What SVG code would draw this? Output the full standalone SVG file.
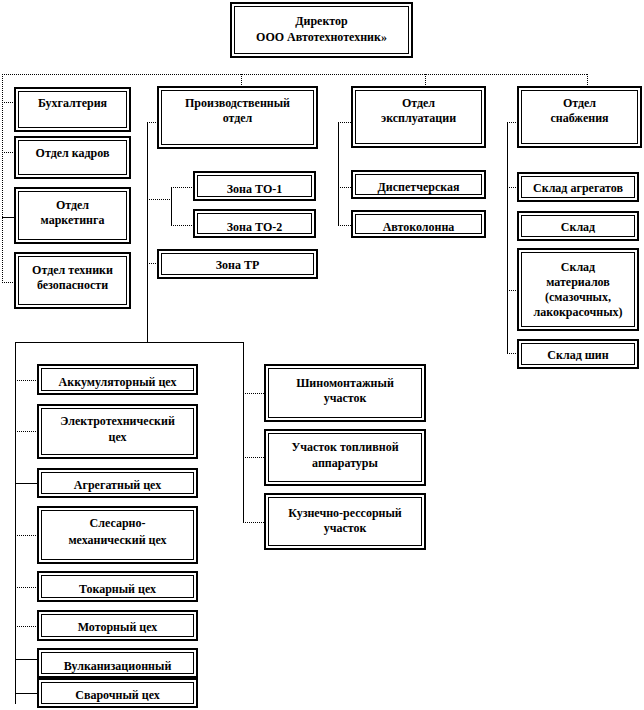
<svg xmlns="http://www.w3.org/2000/svg" width="644" height="710" viewBox="0 0 644 710">
<style>
.o{fill:#fff;stroke:#000;stroke-width:2}
.i{fill:none;stroke:#000;stroke-width:1}
text{font-family:"Liberation Serif","Times New Roman",serif;font-weight:bold;font-size:12px;text-anchor:middle;fill:#000}
.s{fill:none;stroke:#000;stroke-width:1}
.d{fill:none;stroke:#000;stroke-width:1;stroke-dasharray:1 1}
</style>
<rect width="644" height="710" fill="#fff"/>
<g id="connectors">
<path class="d" d="M2 74.5H588M2.5 74V283M2 102.5H15M2 152.5H15M2 282.5H15M241.5 74V87M425.5 74V87M587.5 74V87"/>
<path class="s" d="M2 217.5H15"/>
<path class="d" d="M147 122.5H158M147 199.5H171M171 187.5H194M171 225.5H194M147 263.5H158"/>
<path class="s" d="M147.5 122V342M171.5 187V226M15 342.5H243.5M15.5 342V704M243.5 342V523"/>
<path class="d" d="M15 380.5H38M15 431.5H38M15 535.5H38M15 587.5H38M15 626.5H38M243 393.5H265M243 457.5H265M243 522.5H265"/>
<path class="s" d="M15 483.5H38M15 659.5H38M15 693.5H38"/>
<path class="d" d="M338 122.5H352M338 187.5H352M338 225.5H352"/>
<path class="s" d="M338.5 122V226M507.5 122V354"/>
<path class="d" d="M507 122.5H518M507 187.5H518M507 290.5H518M507 353.5H518"/>
</g>
<g id="director"><rect class="o" x="231" y="3" width="181" height="54"/><rect class="i" x="234.5" y="6.5" width="174" height="47"/><text x="321.5" y="25">Директор</text><text x="321.5" y="41">ООО Автотехнотехник»</text></g>
<g id="buh"><rect class="o" x="15" y="88" width="115" height="43"/><rect class="i" x="18.5" y="91.5" width="108" height="36"/><text x="72.5" y="107">Бухгалтерия</text></g>
<g id="kadry"><rect class="o" x="15" y="137" width="115" height="41"/><rect class="i" x="18.5" y="140.5" width="108" height="34"/><text x="72.5" y="157">Отдел  кадров</text></g>
<g id="marketing"><rect class="o" x="15" y="188" width="115" height="55"/><rect class="i" x="18.5" y="191.5" width="108" height="48"/><text x="72.5" y="209">Отдел</text><text x="72.5" y="224">маркетинга</text></g>
<g id="tb"><rect class="o" x="15" y="253" width="115" height="55"/><rect class="i" x="18.5" y="256.5" width="108" height="48"/><text x="72.5" y="274">Отдел  техники</text><text x="72.5" y="289">безопасности</text></g>
<g id="prod"><rect class="o" x="158" y="87" width="159" height="61"/><rect class="i" x="161.5" y="90.5" width="152" height="54"/><text x="237.5" y="107">Производственный</text><text x="237.5" y="122">отдел</text></g>
<g id="to1"><rect class="o" x="194" y="172" width="121" height="28"/><rect class="i" x="197.5" y="175.5" width="114" height="21"/><text x="254.5" y="193">Зона ТО-1</text></g>
<g id="to2"><rect class="o" x="194" y="210" width="121" height="27"/><rect class="i" x="197.5" y="213.5" width="114" height="20"/><text x="254.5" y="231">Зона ТО-2</text></g>
<g id="tr"><rect class="o" x="158" y="250" width="159" height="28"/><rect class="i" x="161.5" y="253.5" width="152" height="21"/><text x="237.5" y="269">Зона ТР</text></g>
<g id="expl"><rect class="o" x="352" y="87" width="133" height="60"/><rect class="i" x="355.5" y="90.5" width="126" height="53"/><text x="418.5" y="107">Отдел</text><text x="418.5" y="122">эксплуатации</text></g>
<g id="disp"><rect class="o" x="352" y="171" width="133" height="27"/><rect class="i" x="355.5" y="174.5" width="126" height="20"/><text x="418.5" y="191">Диспетчерская</text></g>
<g id="avtokolonna"><rect class="o" x="352" y="211" width="133" height="26"/><rect class="i" x="355.5" y="214.5" width="126" height="19"/><text x="418.5" y="231">Автоколонна</text></g>
<g id="snab"><rect class="o" x="518" y="87" width="123" height="60"/><rect class="i" x="521.5" y="90.5" width="116" height="53"/><text x="579.5" y="107">Отдел</text><text x="579.5" y="122">снабжения</text></g>
<g id="sklad-agr"><rect class="o" x="518" y="173" width="120" height="28"/><rect class="i" x="521.5" y="176.5" width="113" height="21"/><text x="578" y="192">Склад  агрегатов</text></g>
<g id="sklad"><rect class="o" x="518" y="212" width="120" height="28"/><rect class="i" x="521.5" y="215.5" width="113" height="21"/><text x="578" y="231">Склад</text></g>
<g id="sklad-mat"><rect class="o" x="518" y="249" width="120" height="81"/><rect class="i" x="521.5" y="252.5" width="113" height="74"/><text x="578" y="271">Склад</text><text x="578" y="286">материалов</text><text x="578" y="301">(смазочных,</text><text x="578" y="316">лакокрасочных)</text></g>
<g id="sklad-shin"><rect class="o" x="518" y="340" width="120" height="28"/><rect class="i" x="521.5" y="343.5" width="113" height="21"/><text x="578" y="359">Склад  шин</text></g>
<g id="akk"><rect class="o" x="38" y="365" width="159" height="29"/><rect class="i" x="41.5" y="368.5" width="152" height="22"/><text x="117.5" y="386">Аккумуляторный цех</text></g>
<g id="elektro"><rect class="o" x="38" y="405" width="159" height="53"/><rect class="i" x="41.5" y="408.5" width="152" height="46"/><text x="117.5" y="425">Электротехнический</text><text x="117.5" y="441">цех</text></g>
<g id="agregat"><rect class="o" x="38" y="469" width="159" height="28"/><rect class="i" x="41.5" y="472.5" width="152" height="21"/><text x="117.5" y="489">Агрегатный цех</text></g>
<g id="slesar"><rect class="o" x="38" y="507" width="159" height="56"/><rect class="i" x="41.5" y="510.5" width="152" height="49"/><text x="117.5" y="527">Слесарно-</text><text x="117.5" y="544">механический цех</text></g>
<g id="tokar"><rect class="o" x="38" y="572" width="159" height="29"/><rect class="i" x="41.5" y="575.5" width="152" height="22"/><text x="117.5" y="593">Токарный цех</text></g>
<g id="motor"><rect class="o" x="38" y="611" width="159" height="29"/><rect class="i" x="41.5" y="614.5" width="152" height="22"/><text x="117.5" y="631">Моторный цех</text></g>
<g id="vulk"><rect class="o" x="38" y="649" width="159" height="28"/><rect class="i" x="41.5" y="652.5" width="152" height="21"/><text x="117.5" y="670">Вулканизационный</text></g>
<g id="svar"><rect class="o" x="38" y="679" width="159" height="28"/><rect class="i" x="41.5" y="682.5" width="152" height="21"/><text x="117.5" y="699">Сварочный цех</text></g>
<g id="shinomont"><rect class="o" x="265" y="365" width="160" height="56"/><rect class="i" x="268.5" y="368.5" width="153" height="49"/><text x="345" y="387">Шиномонтажный</text><text x="345" y="402">участок</text></g>
<g id="toplivo"><rect class="o" x="265" y="430" width="160" height="55"/><rect class="i" x="268.5" y="433.5" width="153" height="48"/><text x="345" y="451">Участок топливной</text><text x="345" y="467">аппаратуры</text></g>
<g id="kuznec"><rect class="o" x="265" y="494" width="160" height="55"/><rect class="i" x="268.5" y="497.5" width="153" height="48"/><text x="345" y="517">Кузнечно-рессорный</text><text x="345" y="532">участок</text></g>
</svg>
